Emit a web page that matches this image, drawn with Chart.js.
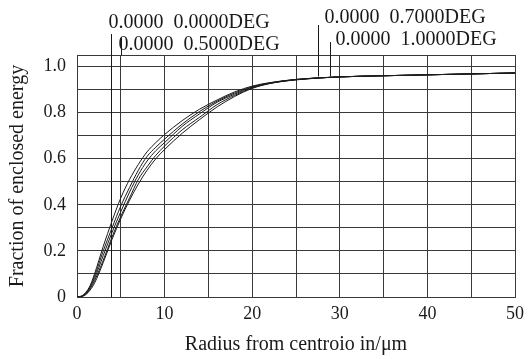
<!DOCTYPE html>
<html>
<head>
<meta charset="utf-8">
<script src="https://cdn.jsdelivr.net/npm/chart.js@4"></script>
<style>
  html, body { margin: 0; padding: 0; background: #fff; }
  #wrap { width: 530px; height: 359px; position: relative; }
</style>
</head>
<body>
<div id="wrap"><canvas id="chart"></canvas></div>
<script>
// radius from centroid (um)
const radius = [0, 0.5, 1, 1.5, 2, 3, 4, 5, 6, 7, 8, 9, 10, 12, 14, 16, 18, 20, 22, 25, 30, 35, 40, 45, 50];

// fraction of enclosed energy, one list per curve
const curveA = [0, 0.004, 0.02, 0.05, 0.10, 0.22, 0.33, 0.43, 0.51, 0.575, 0.63, 0.67, 0.705, 0.765, 0.815, 0.855, 0.89, 0.915, 0.93, 0.944, 0.955, 0.96, 0.964, 0.968, 0.972];
const curveB = [0, 0.003, 0.017, 0.045, 0.09, 0.20, 0.30, 0.395, 0.475, 0.55, 0.61, 0.65, 0.685, 0.75, 0.805, 0.85, 0.885, 0.912, 0.929, 0.944, 0.955, 0.96, 0.964, 0.968, 0.972];
const curveC = [0, 0.003, 0.015, 0.04, 0.08, 0.18, 0.28, 0.37, 0.455, 0.53, 0.59, 0.635, 0.67, 0.74, 0.795, 0.845, 0.88, 0.91, 0.928, 0.943, 0.955, 0.96, 0.964, 0.968, 0.972];
const curveD = [0, 0.002, 0.012, 0.035, 0.07, 0.16, 0.26, 0.35, 0.43, 0.51, 0.565, 0.615, 0.655, 0.725, 0.78, 0.835, 0.875, 0.907, 0.927, 0.943, 0.955, 0.96, 0.964, 0.968, 0.972];
const curveE = [0, 0.002, 0.01, 0.03, 0.06, 0.15, 0.25, 0.34, 0.42, 0.49, 0.55, 0.60, 0.64, 0.71, 0.77, 0.825, 0.87, 0.905, 0.926, 0.942, 0.955, 0.96, 0.964, 0.968, 0.972];

// grid / tick values
const xTicks = [0, 5, 10, 15, 20, 25, 30, 35, 40, 45, 50];
const yTicks = [0, 0.1, 0.2, 0.3, 0.4, 0.5, 0.6, 0.7, 0.8, 0.9, 1.0, 1.05];

// field labels and where their leader lines hit the plot
const fieldLabels = ['0.0000  0.0000DEG', '0.0000  0.5000DEG', '0.0000  0.7000DEG', '0.0000  1.0000DEG'];
const leaderX = [3.85, 5, 27.55, 28.85];
const leaderEndY = [0, 1.05, 0.957, 0.957];

const FONT = "'Liberation Serif', 'DejaVu Serif', serif";
const INK = '#1a1a1a';
const GRID = '#3a3a3a';

const series = [curveA, curveB, curveC, curveD, curveE];
const datasets = series.map((vals, i) => ({
    label: 'c' + i,
    data: radius.map((r, j) => ({ x: r, y: vals[j] })),
    borderColor: INK,
    borderWidth: 1,
    pointRadius: 0,
    fill: false,
    cubicInterpolationMode: 'monotone'
}));

// text pos offsets (pixels) for the field labels
const labelPos = [
    { dx: -3, y: 28 },
    { dx: -3, y: 50 },
    { dx: 6, y: 23 },
    { dx: 5, y: 45 }
];
const leaderTop = [34, 38, 25, 42];

const fieldLabelPlugin = {
    id: 'fieldLabels',
    afterDatasetsDraw(chart) {
        const { ctx, scales } = chart;
        ctx.save();
        ctx.strokeStyle = INK;
        ctx.lineWidth = 1;
        ctx.fillStyle = INK;
        ctx.font = '20px ' + FONT;
        ctx.textBaseline = 'alphabetic';
        fieldLabels.forEach((txt, i) => {
            const px = Math.round(scales.x.getPixelForValue(leaderX[i])) + 0.5;
            const py = scales.y.getPixelForValue(leaderEndY[i]);
            ctx.beginPath();
            ctx.moveTo(px, leaderTop[i]);
            ctx.lineTo(px, py);
            ctx.stroke();
            ctx.fillText(txt, px + labelPos[i].dx, labelPos[i].y);
        });
        ctx.restore();
    }
};

new Chart(document.getElementById('chart'), {
    type: 'line',
    data: { datasets },
    options: {
        responsive: true,
        maintainAspectRatio: false,
        animation: false,
        layout: { padding: { left: 0, right: 13, top: 55, bottom: 0 } },
        plugins: { legend: { display: false }, tooltip: { enabled: false } },
        scales: {
            x: {
                type: 'linear',
                min: 0,
                max: 50,
                afterBuildTicks: s => { s.ticks = xTicks.map(v => ({ value: v })); },
                afterFit: s => { s.height = 62; },
                grid: { color: GRID, lineWidth: 1, drawTicks: false },
                border: { color: GRID, width: 1 },
                ticks: {
                    color: INK,
                    font: { family: FONT, size: 18 },
                    padding: 6,
                    maxRotation: 0,
                    autoSkip: false,
                    callback: v => (v % 10 === 0 ? String(v) : '')
                },
                title: {
                    display: true,
                    text: 'Radius from centroio in/\u03bcm',
                    color: INK,
                    font: { family: FONT, size: 20 },
                    padding: { top: 0, bottom: 2 }
                }
            },
            y: {
                type: 'linear',
                min: 0,
                max: 1.05,
                afterBuildTicks: s => { s.ticks = yTicks.map(v => ({ value: v })); },
                afterFit: s => { s.width = 77; },
                grid: { color: GRID, lineWidth: 1, drawTicks: false },
                border: { color: GRID, width: 1 },
                ticks: {
                    color: INK,
                    font: { family: FONT, size: 18 },
                    padding: 11,
                    autoSkip: false,
                    callback: v => {
                        const k = Math.round(v * 10);
                        if (Math.abs(v * 10 - k) > 1e-6 || k % 2 !== 0) return '';
                        return k === 0 ? '0' : v.toFixed(1);
                    }
                },
                title: {
                    display: true,
                    text: 'Fraction of enclosed energy',
                    color: INK,
                    font: { family: FONT, size: 20 },
                    padding: { top: 6, bottom: 0 }
                }
            }
        }
    },
    plugins: [fieldLabelPlugin]
});
</script>
</body>
</html>
